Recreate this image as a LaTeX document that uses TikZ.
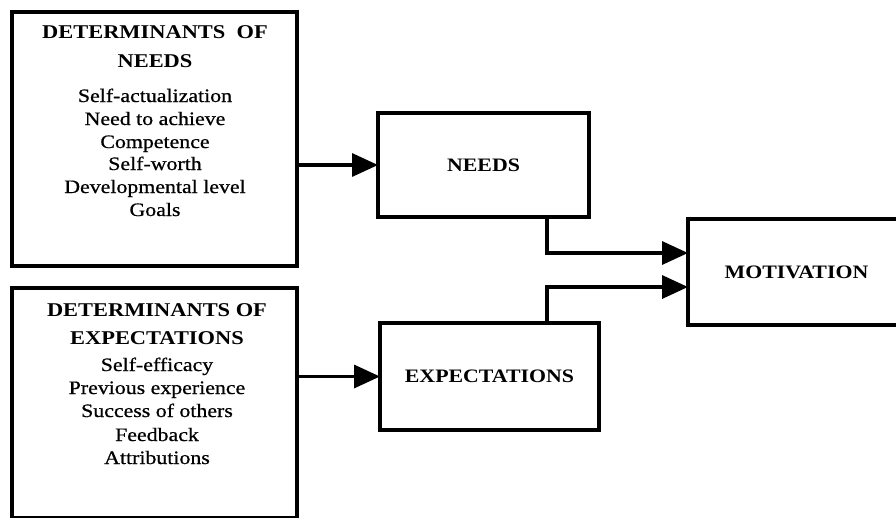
\documentclass[tikz,border=0pt]{standalone}
\usepackage{fontspec}
\setmainfont{Liberation Serif}
\newfontfamily\bodyfont[FakeStretch=1.15]{Liberation Serif}
\newfontfamily\itemfont[FakeStretch=1.15,FakeBold=0.7]{Liberation Serif}
\usetikzlibrary{arrows.meta}
\tikzset{
  box/.style={draw, line width=3.4pt, outer sep=0pt, inner sep=0pt},
  conn/.style={line width=3.4pt, -{Triangle[length=26pt,width=23pt]}},
  head/.style={font=\bodyfont\bfseries\fontsize{19.5}{20}\selectfont, anchor=base, inner sep=0pt},
  item/.style={font=\itemfont\fontsize{19}{20}\selectfont, anchor=base, inner sep=0pt},
  title/.style={box, font=\bodyfont\bfseries\fontsize{19}{20}\selectfont}
}
\begin{document}
\begin{tikzpicture}[x=1pt, y=-1pt]
\useasboundingbox (0,0) rectangle (896,517);
\clip (0,0) rectangle (896,517);

% determinants of needs
\node[box, minimum width=285pt, minimum height=254pt] (detA) at (154.5,139) {};
\node[head] (a1) at (155,38) {DETERMINANTS\ \ OF};
\node[head] (a2) at (155,67) {NEEDS};
\node[item] (a3) at (155,102) {Self-actualization};
\node[item] (a4) at (155,125) {Need to achieve};
\node[item] (a5) at (155,148) {Competence};
\node[item] (a6) at (155,170) {Self-worth};
\node[item] (a7) at (155,193) {Developmental level};
\node[item] (a8) at (155,216) {Goals};

% determinants of expectations (runs past the lower edge)
\node[box, minimum width=285pt, minimum height=230pt] (detB) at (154.5,403) {};
\node[head] (b1) at (157,316) {DETERMINANTS OF};
\node[head] (b2) at (157,344) {EXPECTATIONS};
\node[item] (b3) at (157,371) {Self-efficacy};
\node[item] (b4) at (157,394) {Previous experience};
\node[item] (b5) at (157,417) {Success of others};
\node[item] (b6) at (157,441) {Feedback};
\node[item] (b7) at (157,464) {Attributions};

% middle and right boxes
\node[title, minimum width=211pt, minimum height=104pt] (needs) at (483.5,165) {NEEDS};
\node[title, minimum width=219pt, minimum height=107pt] (expc) at (489.5,376.5) {EXPECTATIONS};
\node[title, minimum width=217pt, minimum height=106pt] (mot) at (796.5,272) {MOTIVATION};

% connectors
\draw[conn] (detA.east |- needs.west) -- (needs.west);
\draw[conn] (detB.east |- expc.west) -- (expc.west);
\draw[conn] ([xshift=169pt]needs.south west) |- ([yshift=19pt]mot.west);
\draw[conn] ([xshift=167pt]expc.north west) |- ([yshift=-15pt]mot.west);
\end{tikzpicture}
\end{document}
